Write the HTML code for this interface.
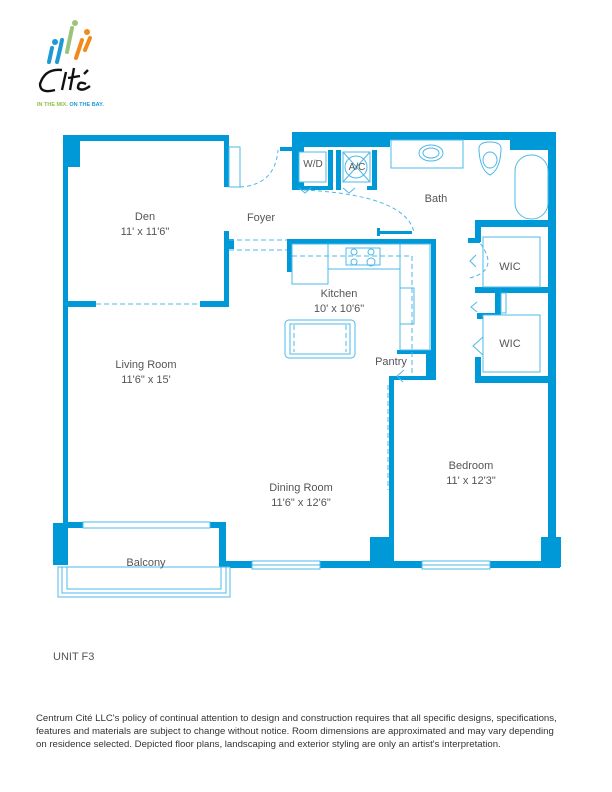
<!DOCTYPE html>
<html><head><style>
body{margin:0;background:#fff;width:612px;height:792px;overflow:hidden}
svg{display:block}
text{font-family:"Liberation Sans",sans-serif}
</style></head><body>
<svg width="612" height="792" viewBox="0 0 612 792" xmlns="http://www.w3.org/2000/svg">
<!-- logo -->
<g stroke-linecap="round" fill="none" stroke-width="4">
<path d="M52 48 L49 62" stroke="#1d9ad6"/><circle cx="55" cy="42" r="3" fill="#1d9ad6" stroke="none"/>
<path d="M62 40 Q60 50 57 62" stroke="#1d9ad6"/>
<path d="M72 28 L67 52" stroke="#9bc47a"/><circle cx="75" cy="23" r="3" fill="#9bc47a" stroke="none"/>
<path d="M82 40 L76 58 M90 38 L85 50" stroke="#f08a1d"/><circle cx="87" cy="32" r="3" fill="#f08a1d" stroke="none"/>
</g>
<path d="M62 70 Q45 68 40 84 Q40 94 55 90 M66 72 L62 90 M74 68 L70 90 M68 78 L80 76 M86 84 Q78 80 78 88 Q82 92 90 86 M84 74 L88 70" stroke="#111" stroke-width="2.4" fill="none"/>
<text x="37" y="106" font-size="5.5" font-weight="bold" fill="#8cc04a">IN THE MIX. <tspan fill="#1d9ad6">ON THE BAY.</tspan></text>

<g fill="#0099d8">
<!-- den / left -->
<rect x="63" y="135" width="5" height="390"/>
<rect x="63" y="135" width="17" height="32"/>
<rect x="63" y="135" width="166" height="6"/>
<rect x="224" y="135" width="5" height="52"/>
<rect x="224" y="231" width="5" height="76"/>
<rect x="224" y="239" width="10" height="10"/>
<rect x="66" y="301" width="30" height="6"/>
<rect x="200" y="301" width="29" height="6"/>
<!-- top right -->
<rect x="292" y="132" width="264" height="8"/>
<rect x="292" y="132" width="12" height="58"/>
<rect x="292" y="132" width="98" height="15"/>
<rect x="280" y="147" width="14" height="4"/>
<rect x="328" y="150" width="5" height="40"/>
<rect x="336" y="150" width="5" height="40"/>
<rect x="372" y="150" width="5" height="40"/>
<rect x="304" y="186" width="27" height="4"/>
<rect x="336" y="186" width="5" height="4"/>
<rect x="367" y="186" width="10" height="4"/>
<rect x="510" y="140" width="46" height="10"/>
<rect x="548" y="132" width="8" height="410"/>
<!-- bath lower -->
<rect x="475" y="220" width="81" height="7"/>
<rect x="475" y="220" width="6" height="22"/>
<rect x="468" y="238" width="12" height="5"/>
<rect x="378" y="231" width="34" height="3"/>
<rect x="377" y="228" width="3" height="8"/>
<!-- kitchen -->
<rect x="287" y="239" width="149" height="5"/>
<rect x="287" y="239" width="5" height="33"/>
<rect x="431" y="239" width="5" height="141"/>
<rect x="397" y="350" width="35" height="4"/>
<rect x="426" y="350" width="5" height="30"/>
<rect x="389" y="376" width="42" height="4"/>
<!-- wic -->
<rect x="475" y="287" width="81" height="6"/>
<rect x="475" y="287" width="26" height="6"/>
<rect x="495" y="287" width="6" height="32"/>
<rect x="477" y="313" width="24" height="6"/>
<rect x="475" y="357" width="6" height="26"/>
<rect x="475" y="376" width="81" height="7"/>
<!-- bedroom left -->
<rect x="389" y="380" width="5" height="187"/>
<!-- bottom -->
<rect x="222" y="561" width="338" height="7"/>
<rect x="370" y="537" width="22" height="30"/>
<rect x="541" y="537" width="20" height="30"/>
<rect x="53" y="523" width="15" height="42"/>
<rect x="63" y="522" width="20" height="6"/>
<rect x="210" y="522" width="16" height="6"/>
<rect x="219" y="522" width="7" height="46"/>
</g>

<g fill="#fff" stroke="#4db8e8" stroke-width="1">
<rect x="252" y="561" width="68" height="8"/>
<rect x="422" y="561" width="68" height="8"/>
<rect x="83" y="522" width="127" height="6"/>
<rect x="299" y="152" width="27" height="30"/>
<rect x="343" y="152" width="27" height="30"/>
<rect x="391" y="140" width="72" height="28"/>
<rect x="515" y="155" width="33" height="64" rx="16"/>
<rect x="483" y="237" width="57" height="50"/>
<rect x="483" y="315" width="57" height="57"/>
<rect x="501" y="293" width="5" height="20"/>
<rect x="292" y="244" width="36" height="40"/>
<rect x="328" y="244" width="72" height="25"/>
<rect x="346" y="248" width="34" height="17"/>
<rect x="400" y="244" width="30" height="106"/>
<rect x="400" y="288" width="14" height="36"/>
<rect x="285" y="320" width="70" height="38" rx="4"/>
<rect x="290" y="324" width="60" height="30"/>
<rect x="58" y="567" width="172" height="30"/>
<rect x="62" y="567" width="164" height="26"/>
<rect x="67" y="567" width="154" height="22"/>
<rect x="229" y="147" width="11" height="40"/>
</g>
<g fill="none" stroke="#4db8e8" stroke-width="1">
<line x1="252" y1="565" x2="320" y2="565"/><line x1="422" y1="565" x2="490" y2="565"/>
<line x1="343" y1="152" x2="370" y2="182"/><line x1="370" y1="152" x2="343" y2="182"/>
<circle cx="356" cy="167" r="11"/>
<ellipse cx="431" cy="153" rx="12" ry="8"/><ellipse cx="431" cy="153" rx="8" ry="5"/>
<path d="M479 150 Q478 142 490 142 Q502 142 501 150 Q500 170 490 175 Q480 170 479 150Z"/>
<ellipse cx="490" cy="160" rx="7" ry="8"/>
<circle cx="354" cy="252" r="3"/><circle cx="371" cy="252" r="3"/><circle cx="354" cy="262" r="3"/><circle cx="371" cy="262" r="4"/>
<path d="M299 188 l6 5 l6 -5 M343 188 l6 5 l6 -5"/>
<path d="M304 190 Q405 195 414 232" stroke-dasharray="4 3"/>
<path d="M240 187 Q275 185 278 150" stroke-dasharray="4 3"/>
<path d="M470 278 Q500 270 480 243" stroke-dasharray="4 3"/>
<path d="M476 255 l-6 6 l6 6 M477 302 l-6 5 l6 5 M483 337 l-10 9 l10 9 M404 370 l-7 6 l6 6"/>
<g stroke-dasharray="5 3">
<line x1="96" y1="304" x2="200" y2="304"/>
<line x1="229" y1="240" x2="287" y2="240"/><line x1="229" y1="250" x2="287" y2="250"/>
<line x1="292" y1="256" x2="412" y2="256"/><line x1="412" y1="256" x2="412" y2="376"/>
<line x1="388" y1="385" x2="388" y2="490"/>
<line x1="294" y1="325" x2="294" y2="352"/><line x1="346" y1="325" x2="346" y2="352"/>
</g>
</g>

<g font-size="11" fill="#555" text-anchor="middle">
<text x="145" y="220">Den</text><text x="145" y="235">11' x 11'6"</text>
<text x="261" y="221">Foyer</text>
<text x="436" y="202">Bath</text>
<text x="313" y="167" font-size="10">W/D</text><text x="357" y="170" font-size="10">A/C</text>
<text x="339" y="297">Kitchen</text><text x="339" y="312">10' x 10'6"</text>
<text x="510" y="270">WIC</text><text x="510" y="347">WIC</text>
<text x="391" y="365">Pantry</text>
<text x="146" y="368">Living Room</text><text x="146" y="383">11'6" x 15'</text>
<text x="301" y="491">Dining Room</text><text x="301" y="506">11'6" x 12'6"</text>
<text x="471" y="469">Bedroom</text><text x="471" y="484">11' x 12'3"</text>
<text x="146" y="566">Balcony</text>
</g>
<text x="53" y="660" font-size="11" fill="#555">UNIT F3</text>
<g font-size="9.6" fill="#333">
<text x="36" y="721">Centrum Cité LLC's policy of continual attention to design and construction requires that all specific designs, specifications,</text>
<text x="36" y="734">features and materials are subject to change without notice. Room dimensions are approximated and may vary depending</text>
<text x="36" y="747">on residence selected. Depicted floor plans, landscaping and exterior styling are only an artist's interpretation.</text>
</g>
</svg>
</body></html>
